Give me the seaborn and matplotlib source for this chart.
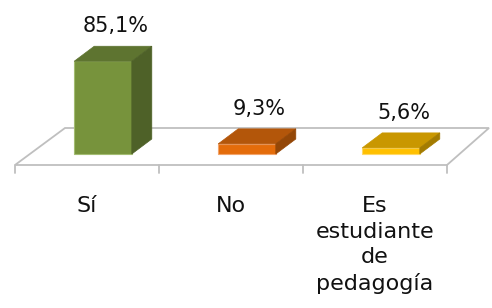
import pandas as pd
import matplotlib.pyplot as plt
import matplotlib.transforms as mtransforms
from matplotlib.patches import Polygon
import seaborn as sns

# Data
categories = ["Sí", "No", "Es\nestudiante\nde\npedagogía"]
percentages = [85.1, 9.3, 5.6]
pct_labels = ["85,1%", "9,3%", "5,6%"]

# Colors for the pseudo-3D faces
front_colors = ["#77933C", "#E46C0A", "#FFC000"]
top_colors = ["#5E7430", "#B3560A", "#C99700"]
side_colors = ["#4E6128", "#944707", "#A37B00"]
edge_colors = ["#A3BC72", "#F2A36A", "#FFD966"]

sns.set_theme(style="white")
plt.rcParams['font.family'] = ['DejaVu Sans']

DPI = 100
fig = plt.figure(figsize=(4.92, 3.08), dpi=DPI)
ax = fig.add_axes([0, 0, 1, 1])

df = pd.DataFrame({"cat": categories, "pct": percentages})
sns.barplot(data=df, x="cat", y="pct", hue="cat", palette=front_colors,
            legend=False, width=0.4, saturation=1, ax=ax, zorder=3)

# scale: 144 px per category, 1.09 px per percent, baseline at 154 px from top
ax.set_xlim(-103 / 144, (492 - 103) / 144)
ax.set_ylim(-(308 - 154) / 1.09, 154 / 1.09)
ax.axis("off")

fig.canvas.draw()
to_px = ax.transData.transform
ident = mtransforms.IdentityTransform()
grey = "#BFBFBF"

# floor (perspective parallelogram) behind the bars
n = len(categories)
(fl_x, base_y), = to_px([(-0.5, 0)])
(fr_x, _), = to_px([(n - 0.5, 0)])
front_y = base_y - 11
fl_x -= 16
fr_x -= 16
floor = [(fl_x, front_y), (fr_x, front_y), (fr_x + 42, front_y + 37), (fl_x + 50, front_y + 37)]
ax.add_patch(Polygon(floor, closed=True, fill=False, edgecolor=grey, lw=1.3,
                     transform=ident, zorder=1))
for k in range(n + 1):
    (tx, _), = to_px([(k - 0.5, 0)])
    ax.plot([tx - 16, tx - 16], [front_y, front_y - 8], color=grey, lw=1.3,
            transform=ident, zorder=1)

# depth faces computed from the seaborn bars
dx, dy = 20, 15
for i, bar in enumerate(ax.patches[:n]):
    bar.set_edgecolor(edge_colors[i])
    bar.set_linewidth(0.8)
    x0, y0 = bar.get_x(), bar.get_y()
    x1, y1 = x0 + bar.get_width(), y0 + bar.get_height()
    (ax0, ay0), (ax1, ay1) = to_px([(x0, y0), (x1, y1)])
    top = [(ax0, ay1), (ax1, ay1), (ax1 + dx, ay1 + dy), (ax0 + dx, ay1 + dy)]
    side = [(ax1, ay0), (ax1, ay1), (ax1 + dx, ay1 + dy), (ax1 + dx, ay0 + dy)]
    ax.add_patch(Polygon(top, closed=True, facecolor=top_colors[i],
                         edgecolor=top_colors[i], lw=0.5, transform=ident, zorder=4))
    ax.add_patch(Polygon(side, closed=True, facecolor=side_colors[i],
                         edgecolor=side_colors[i], lw=0.5, transform=ident, zorder=4))

    # value label above the bar
    ax.annotate(pct_labels[i], xy=(i, percentages[i]), xytext=(9, 21),
                textcoords="offset points", ha="center", va="baseline",
                fontsize=15, color="#111111")
    # category label under the floor
    ax.annotate(categories[i], xy=(i, 0), xytext=(-11.5, -30.5),
                textcoords="offset points", ha="center", va="top",
                fontsize=16, color="#111111", linespacing=1.33,
                multialignment="center")

fig.savefig("out.png", dpi=DPI)
